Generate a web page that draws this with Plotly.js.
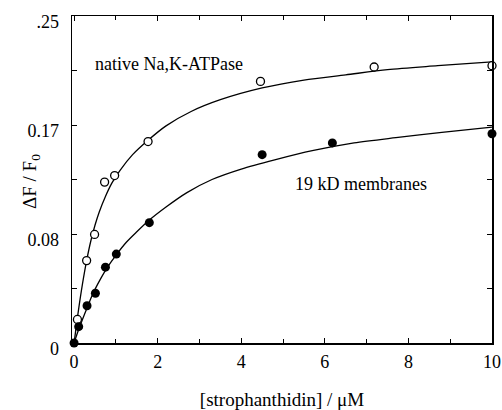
<!DOCTYPE html>
<html>
<head>
<meta charset="utf-8">
<script src="https://cdn.plot.ly/plotly-3.0.1.min.js"></script>
<style>html,body{margin:0;padding:0;background:#fff;}#chart{width:502px;height:410px;}</style>
</head>
<body>
<div id="chart"></div>
<script>
// Measured points
const nativeX = [0.08, 0.30, 0.49, 0.73, 0.97, 1.77, 4.46, 7.18, 10.0];
const nativeY = [0.018, 0.063, 0.083, 0.123, 0.128, 0.154, 0.200, 0.211, 0.212];
const membX = [0, 0.11, 0.31, 0.51, 0.75, 1.01, 1.80, 4.50, 6.18, 10.0];
const membY = [0, 0.0125, 0.0285, 0.038, 0.058, 0.068, 0.092, 0.144, 0.153, 0.160];

// Fitted curves
const nativeCurveX = [0, 0.1, 0.2, 0.3, 0.4, 0.5, 0.6, 0.75, 0.9, 1.1, 1.4, 1.77, 2.2, 2.8, 3.5, 4.5, 5.5, 6.5, 7.5, 8.7, 10];
const nativeCurveY = [0, 0.024, 0.045, 0.063, 0.078, 0.090, 0.100, 0.112, 0.122, 0.132, 0.144, 0.155, 0.166, 0.177, 0.186, 0.195, 0.201, 0.205, 0.209, 0.212, 0.215];
const membCurveX = [0, 0.1, 0.2, 0.3, 0.4, 0.5, 0.65, 0.8, 1.0, 1.25, 1.5, 1.8, 2.2, 2.7, 3.3, 4.0, 4.8, 5.7, 6.7, 7.7, 8.8, 10];
const membCurveY = [0, 0.0095, 0.018, 0.026, 0.034, 0.041, 0.050, 0.058, 0.067, 0.077, 0.085, 0.094, 0.104, 0.115, 0.125, 0.133, 0.140, 0.147, 0.153, 0.157, 0.161, 0.165];

// Tick labels
const xTickVals = [0, 2, 4, 6, 8, 10];
const xTickText = ['0', '2', '4', '6', '8', '10'];
const yTickVals = [0, 1/12, 1/6, 0.25];
const yTickText = ['0', '0.08', '0.17', '.25'];

const serif = 'Liberation Serif, Times New Roman, serif';

const traces = [
  {x: nativeCurveX, y: nativeCurveY, mode: 'lines', line: {color: '#000', width: 1.3, shape: 'spline', smoothing: 0.8}, hoverinfo: 'skip'},
  {x: membCurveX, y: membCurveY, mode: 'lines', line: {color: '#000', width: 1.3, shape: 'spline', smoothing: 0.8}, hoverinfo: 'skip'},
  {x: nativeX, y: nativeY, mode: 'markers', cliponaxis: false,
   marker: {symbol: 'circle', size: 8, color: '#fff', line: {color: '#000', width: 1.3}}},
  {x: membX, y: membY, mode: 'markers', cliponaxis: false,
   marker: {symbol: 'circle', size: 9, color: '#000', line: {color: '#000', width: 0}}}
];

const layout = {
  width: 502, height: 410,
  margin: {l: 72, r: 10, t: 16, b: 67, pad: 0},
  paper_bgcolor: '#fff', plot_bgcolor: '#fff',
  showlegend: false,
  font: {family: serif, color: '#000', size: 18},
  xaxis: {
    range: [-0.05, 10.0],
    showgrid: false, zeroline: false,
    showline: true, linecolor: '#000', linewidth: 1.5, mirror: 'ticks',
    ticks: 'inside', ticklen: 5, tickwidth: 1, tickcolor: '#000',
    tickvals: xTickVals, ticktext: xTickText,
    tickfont: {family: serif, size: 18, color: '#000'},
    ticklabelstandoff: 2,
    minor: {dtick: 1, tick0: 0, ticks: 'inside', ticklen: 4, tickwidth: 1, tickcolor: '#000', showgrid: false},
    title: {text: '[strophanthidin] / \u03BCM', font: {family: serif, size: 19, color: '#000'}, standoff: 24}
  },
  yaxis: {
    range: [0, 0.25],
    showgrid: false, zeroline: false,
    showline: true, linecolor: '#000', linewidth: 1.5, mirror: 'ticks',
    ticks: 'inside', ticklen: 5, tickwidth: 1, tickcolor: '#000',
    tickvals: yTickVals, ticktext: yTickText,
    tickfont: {family: serif, size: 18, color: '#000'},
    ticklabelstandoff: 8,
    ticklabelshift: 6,
    minor: {dtick: 1/24, tick0: 0, ticks: 'inside', ticklen: 5, tickwidth: 1, tickcolor: '#000', showgrid: false}
  },
  annotations: [
    {text: 'native Na,K-ATPase', x: 169, y: 64, xref: 'paper', yref: 'paper', xanchor: 'center', yanchor: 'middle', showarrow: false,
     font: {family: serif, size: 18, color: '#000'}},
    {text: '19 kD membranes', x: 361, y: 184, xref: 'paper', yref: 'paper', xanchor: 'center', yanchor: 'middle', showarrow: false,
     font: {family: serif, size: 18, color: '#000'}},
    {text: '\u0394F / F<sub>0</sub>', x: 31, y: 182, xref: 'paper', yref: 'paper', xanchor: 'center', yanchor: 'middle', textangle: -90, showarrow: false,
     font: {family: serif, size: 19, color: '#000'}}
  ]
};

// convert annotation pixel positions to paper coords
const pw = layout.width - layout.margin.l - layout.margin.r;
const ph = layout.height - layout.margin.t - layout.margin.b;
layout.annotations.forEach(a => {
  a.x = (a.x - layout.margin.l) / pw;
  a.y = 1 - (a.y - layout.margin.t) / ph;
});

Plotly.newPlot('chart', traces, layout, {displayModeBar: false, staticPlot: true});
</script>
</body>
</html>
